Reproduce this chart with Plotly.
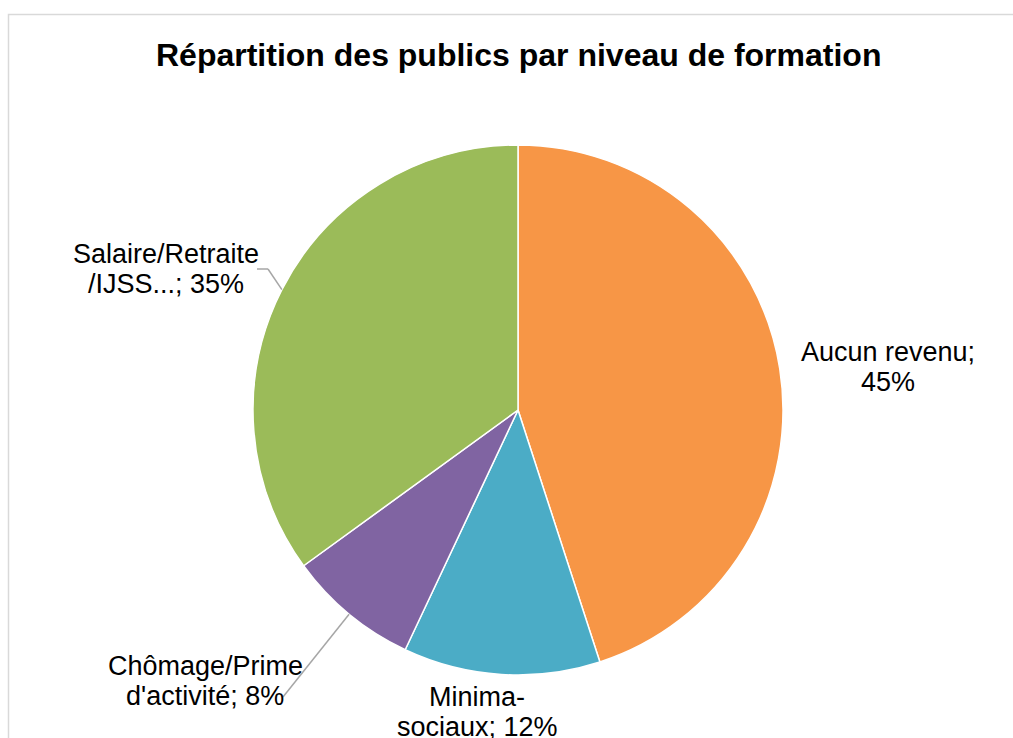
import math
import plotly.graph_objects as go

W, H = 1013, 738

labels = ["Aucun revenu", "Minima-sociaux", "Chômage/Prime d'activité", "Salaire/Retraite /IJSS..."]
values = [45, 12, 8, 35]
colors = ["#F79646", "#4BACC6", "#8064A2", "#9BBB59"]
label_lines = [["Aucun revenu;", "45%"], ["Minima-", "sociaux; 12%"],
               ["Chômage/Prime", "d'activité; 8%"], ["Salaire/Retraite", "/IJSS...; 35%"]]
title = "Répartition des publics par niveau de formation"

# pie geometry (pixels)
cx, cy, R = 518, 410, 265
label_pos = [(888, 352), (477, 697), (205, 666), (166, 254)]
line_step = 30
leader = [None, None, [(283, 697)], [(257, 269), (268, 269)]]
FONT = "Liberation Sans, Arial, sans-serif"

def px(x):
    return x / W

def py(y):
    return 1 - y / H

fig = go.Figure(go.Pie(
    labels=labels, values=values, sort=False, direction="clockwise", rotation=0,
    marker=dict(colors=colors, line=dict(color="white", width=1.5)),
    textinfo="none", hoverinfo="label+percent",
    domain=dict(x=[px(cx - R), px(cx + R)], y=[py(cy + R), py(cy - R)]),
    showlegend=False,
))

annotations = []
shapes = []
total = sum(values)
cum = 0
for i, v in enumerate(values):
    mid = (cum + v / 2) / total * 2 * math.pi
    cum += v
    ex = cx + R * math.sin(mid)
    ey = cy - R * math.cos(mid)
    lx, ly = label_pos[i]
    for k, t in enumerate(label_lines[i]):
        annotations.append(dict(
            x=px(lx), y=py(ly + k * line_step), xref="paper", yref="paper", text=t,
            showarrow=False, xanchor="center", yanchor="middle", align="center",
            font=dict(family=FONT, size=27, color="#000000"),
        ))
    if leader[i]:
        pts = leader[i] + [(ex, ey)]
        for (x0, y0), (x1, y1) in zip(pts[:-1], pts[1:]):
            shapes.append(dict(type="line", xref="paper", yref="paper",
                               x0=px(x0), y0=py(y0), x1=px(x1), y1=py(y1),
                               line=dict(color="#A6A6A6", width=1.5)))

annotations.append(dict(
    x=px(518.5), y=py(55), xref="paper", yref="paper", text="<b>" + title + "</b>",
    showarrow=False, xanchor="center", yanchor="middle",
    font=dict(family=FONT, size=32, color="#000000"),
))

# chart frame
shapes.append(dict(type="rect", xref="paper", yref="paper",
                   x0=px(8.5), y0=py(760), x1=px(1030), y1=py(14.5),
                   line=dict(color="#D9D9D9", width=1.5), fillcolor="rgba(0,0,0,0)", layer="below"))

fig.update_layout(
    width=W, height=H,
    margin=dict(l=0, r=0, t=0, b=0),
    paper_bgcolor="white", plot_bgcolor="white",
    annotations=annotations, shapes=shapes,
)

fig.write_html("out.html", config={"displayModeBar": False},
               post_script="document.body.style.margin='0';document.body.style.overflow='hidden';")
